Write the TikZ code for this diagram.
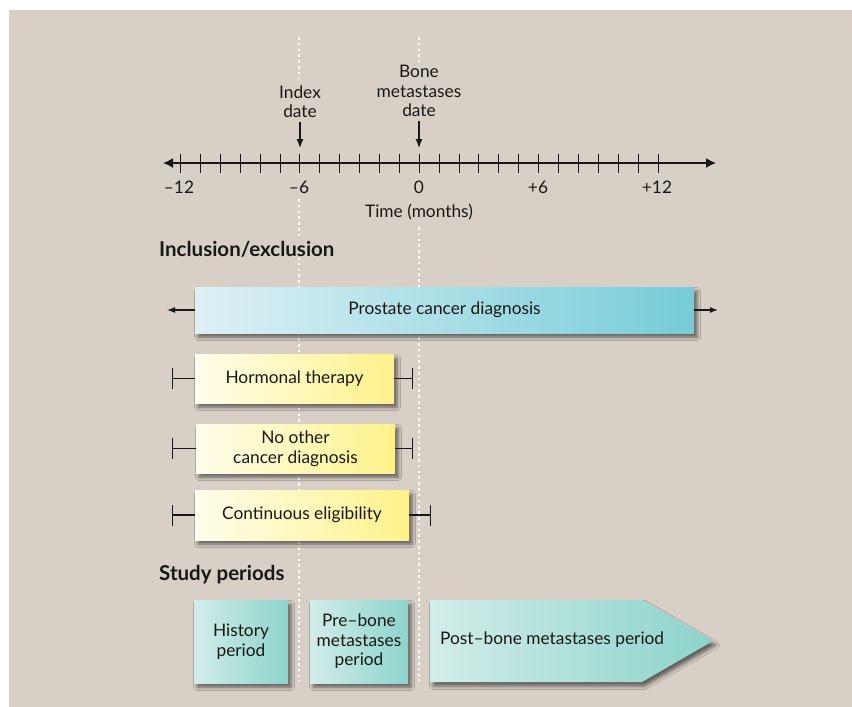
\documentclass[tikz,border=0pt]{standalone}
\usepackage{fontspec}
\setmainfont{Lato}
\usetikzlibrary{arrows.meta,shadows.blur}
\definecolor{bg}{RGB}{216,208,199}
\definecolor{ink}{RGB}{26,24,22}
\definecolor{pblueL}{RGB}{222,241,245}
\definecolor{pblueR}{RGB}{118,204,216}
\definecolor{yelL}{RGB}{255,253,236}
\definecolor{yelR}{RGB}{255,242,138}
\definecolor{tealL}{RGB}{210,237,233}
\definecolor{tealR}{RGB}{140,212,203}
\begin{document}
\begin{tikzpicture}[x=1pt,y=-1pt,
  dotline/.style={draw=white, line width=2.6pt, dash pattern=on 2.6pt off 3.2pt},
  shad/.style={blur shadow={shadow xshift=3pt, shadow yshift=-4pt, shadow blur radius=3.5pt, shadow opacity=55}},
  lbl/.style={font=\fontsize{17.3}{19.5}\selectfont, text=ink, align=center, inner sep=0pt},
  bluebox/.style={lbl, shad, left color=pblueL, right color=pblueR, minimum width=499pt, minimum height=46pt},
  yelbox/.style={lbl, shad, left color=yelL, right color=yelR, minimum height=49pt},
  studybox/.style={lbl, shad, left color=tealL, right color=tealR, minimum height=83pt},
  hdr/.style={font=\fontsize{20.5}{22}\selectfont\bfseries, text=ink, anchor=west, inner sep=1pt, fill=bg},
  axisline/.style={draw=ink, line width=1.5pt},
  tickmark/.style={draw=ink, line width=1.4pt},
  downarr/.style={draw=ink, line width=1.2pt, -{Latex[length=9pt,width=7pt]}},
  sidearr/.style={draw=ink, line width=1.2pt, -{Latex[length=8pt,width=6pt]}},
  endbar/.style={draw=ink, line width=1.3pt, -{Bar[width=21pt,line width=1.3pt]}}
]
\useasboundingbox (0,0) rectangle (852,707);
\fill[bg] (9,10) rectangle (852,707);

% dotted guide lines
\draw[dotline] (299,37) -- (299,78);
\draw[dotline] (299,199) -- (299,681);
\draw[dotline] (419,37) -- (419,62);
\draw[dotline] (419,227) -- (419,681);

% time axis
\coordinate (axL) at (163,163);
\coordinate (axR) at (716,163);
\draw[axisline, {Latex[length=10pt,width=10pt]}-{Latex[length=10pt,width=10pt]}] (axL) -- (axR);
\foreach \i in {-12,...,12} \draw[tickmark] ({round(418.8+19.9*\i)+0.5},153.5) -- ++(0,19);
\node[lbl] (tm12) at (179,187) {–12};
\node[lbl] (tm6) at (299,187) {–6};
\node[lbl] (t0) at (419,187) {0};
\node[lbl] (tp6) at (538,187) {+6};
\node[lbl] (tp12) at (657,187) {+12};
\node[lbl] (tlabel) at (419,212) {Time (months)};

\node[lbl] (idx) at (300,101.5) {Index\\date};
\coordinate (idxtip) at (300,148);
\draw[downarr] (idx.south) ++(0,4) -- (idxtip);
\node[lbl] (bone) at (419,91) {Bone\\metastases\\date};
\coordinate (bonetip) at (419,148);
\draw[downarr] (bone.south) ++(0,4) -- (bonetip);

% inclusion / exclusion
\node[hdr] (incl) at (158,249) {Inclusion/exclusion};

\node[bluebox] (pd) at (444.5,310) {Prostate cancer diagnosis};
\coordinate (pL) at (167,310);
\coordinate (pR) at (718,310);
\draw[sidearr] (pd.west) -- (pL);
\draw[sidearr] (pd.east) -- (pR);

\node[yelbox, minimum width=199pt] (ht) at (294.5,378.5) {Hormonal therapy};
\coordinate (htL) at (172,378.5);
\coordinate (htR) at (413,378.5);
\draw[endbar] (ht.west) -- (htL);
\draw[endbar] (ht.east) -- (htR);

\node[yelbox, minimum width=199pt] (oc) at (295.5,448.5) {No other\\cancer diagnosis};
\coordinate (ocL) at (172,448.5);
\coordinate (ocR) at (413,448.5);
\draw[endbar] (oc.west) -- (ocL);
\draw[endbar] (oc.east) -- (ocR);

\node[yelbox, minimum width=214pt, minimum height=50pt] (ce) at (302,515) {Continuous eligibility};
\coordinate (ceL) at (172,515);
\coordinate (ceR) at (431,515);
\draw[endbar] (ce.west) -- (ceL);
\draw[endbar] (ce.east) -- (ceR);

% study periods
\node[hdr] (study) at (158,575) {Study periods};
\node[studybox, minimum width=94pt] (hist) at (241,641.5) {History\\period};
\node[studybox, minimum width=98pt] (pre) at (359,641.5) {Pre–bone\\metastases\\period};
\path[shad, left color=tealL, right color=tealR] (430,600) -- (642,600) -- (713,641) -- (642,682) -- (430,682) -- cycle;
\node[lbl, anchor=west] (post) at (440,640) {Post–bone metastases period};
\end{tikzpicture}
\end{document}
